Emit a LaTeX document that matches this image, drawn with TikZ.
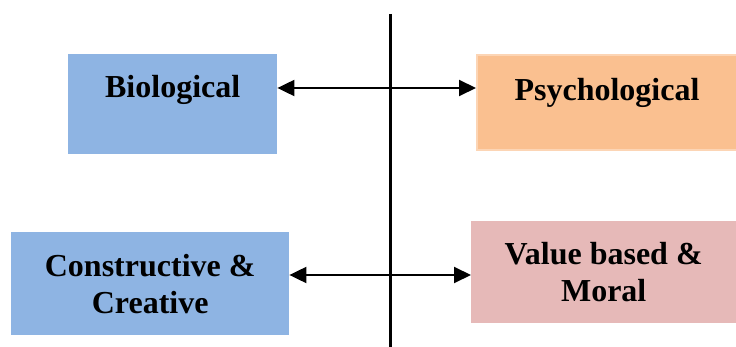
\documentclass[tikz,border=0pt]{standalone}
\usepackage{fontspec}
\setmainfont{Liberation Serif}
\usetikzlibrary{arrows.meta, positioning}

\definecolor{bioBlue}{HTML}{8EB4E3}
\definecolor{psyOrange}{HTML}{FAC090}
\definecolor{psyEdge}{HTML}{FCD5B5}
\definecolor{valPink}{HTML}{E6B9B8}

\begin{document}
\begin{tikzpicture}[x=1pt, y=-1pt,
              areaBox/.style={
                fill=#1, inner sep=0pt, align=center, anchor=north west,
                font=\bfseries\fontsize{32}{37}\selectfont
             },
              linkArrow/.style={
                {Triangle[length=17pt,width=16pt]}-{Triangle[length=17pt,width=16pt]},
                line width=2pt
             } ]
              \useasboundingbox (0,0) rectangle (736,347);
              \node[areaBox=bioBlue, minimum width=209pt, text height=43pt, text depth=57pt](bio) at (68,54){Biological};
              \node[areaBox=psyOrange, draw=psyEdge, line width=2pt, minimum width=260pt, text height=46pt, text depth=49pt](psy) at (476,54){Psychological};
              \node[areaBox=bioBlue, minimum width=278pt, minimum height=103pt](con) at (11,232){Constructive \&\\Creative};
              \node[areaBox=valPink, minimum width=265pt, minimum height=102pt](val) at (471,221){Value based \&\\Moral};
              % divider
              \coordinate (top) at (390,14);
              \coordinate (bot) at (390,347);
              \draw[line width=3pt] (top) -- (bot);
              % links
              \coordinate (rowA) at (0,88);
              \coordinate (rowB) at (0,275);
              \draw[linkArrow] (bio.east |- rowA) -- (psy.west |- rowA);
              \draw[linkArrow] (con.east |- rowB) -- (val.west |- rowB);
            \end{tikzpicture}
\end{document}
